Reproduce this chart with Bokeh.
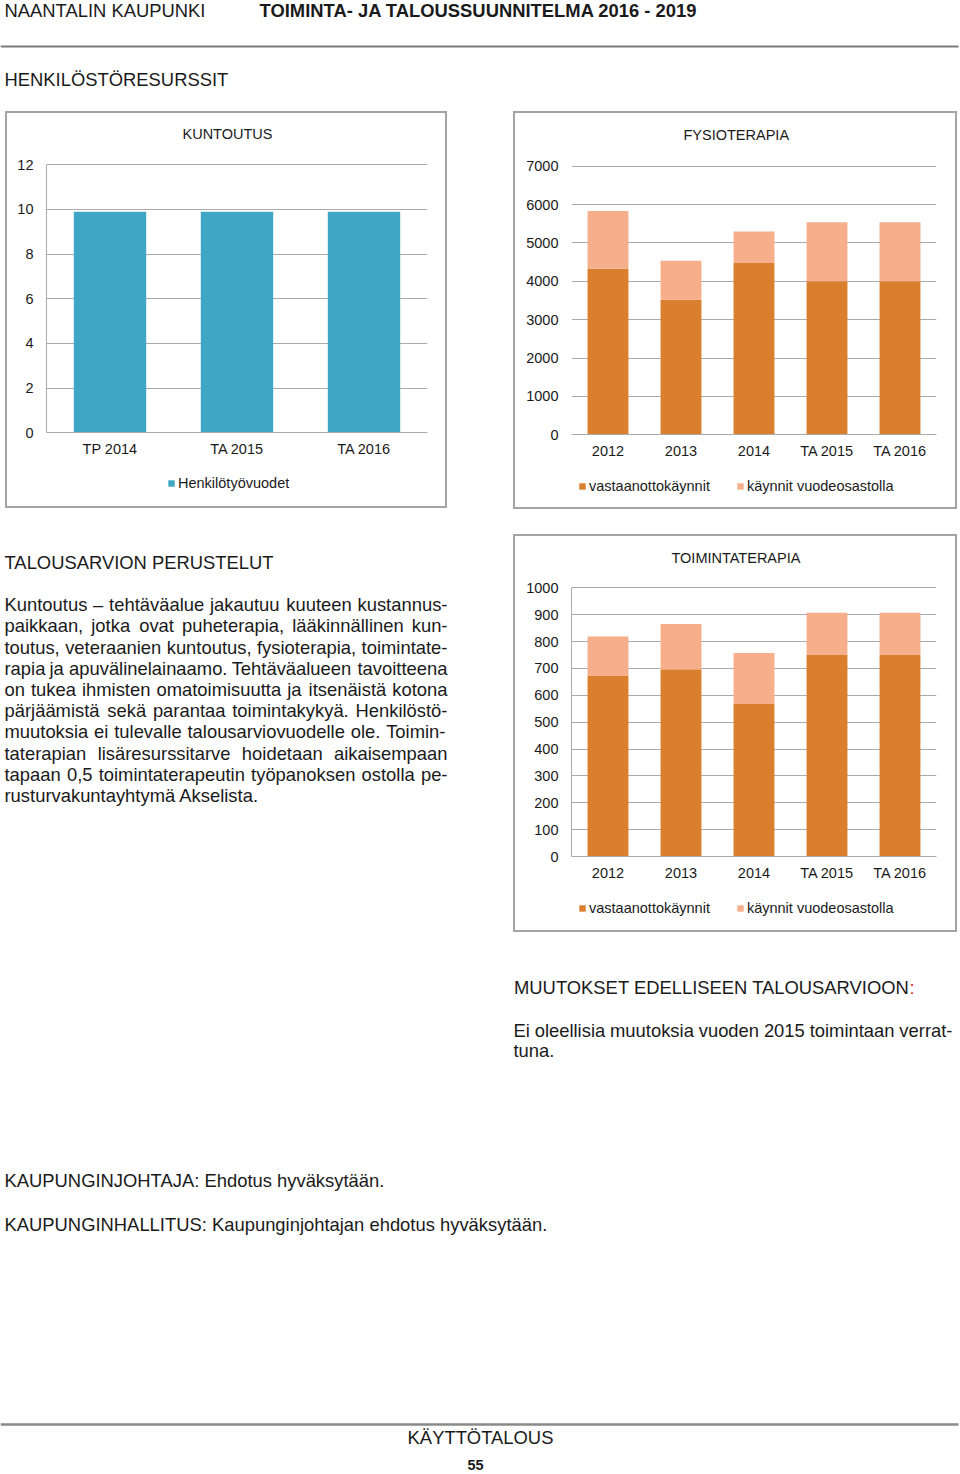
from bokeh.plotting import figure
from bokeh.models import (Range1d, FactorRange, Legend, LegendItem, Spacer,
                          FixedTicker, ColumnDataSource)
from bokeh.layouts import column, row
from bokeh.core.properties import value
from bokeh.embed import file_html
from bokeh.resources import INLINE

FONT = "Liberation Sans"

# ---------------- data ----------------
kuntoutus_categories = ["TP 2014", "TA 2015", "TA 2016"]
henkilotyovuodet = [9.9, 9.9, 9.9]
kuntoutus_ticks = [0, 2, 4, 6, 8, 10, 12]

years = ["2012", "2013", "2014", "TA 2015", "TA 2016"]
series_names = ["vastaanottokäynnit", "käynnit vuodeosastolla"]

fysio_vastaanottokaynnit = [4325, 3520, 4475, 4000, 4000]
fysio_vuodeosastolla = [1505, 1015, 825, 1540, 1540]
fysio_ticks = [0, 1000, 2000, 3000, 4000, 5000, 6000, 7000]

toim_vastaanottokaynnit = [674, 697, 568, 750, 750]
toim_vuodeosastolla = [145, 168, 189, 157, 157]
toim_ticks = [0, 100, 200, 300, 400, 500, 600, 700, 800, 900, 1000]

paragraph_lines = [
    "Kuntoutus – tehtäväalue jakautuu kuuteen kustannus-",
    "paikkaan, jotka ovat puheterapia, lääkinnällinen kun-",
    "toutus, veteraanien kuntoutus, fysioterapia, toimintate-",
    "rapia ja apuvälinelainaamo. Tehtäväalueen tavoitteena",
    "on tukea ihmisten omatoimisuutta ja itsenäistä kotona",
    "pärjäämistä sekä parantaa toimintakykyä. Henkilöstö-",
    "muutoksia ei tulevalle talousarviovuodelle ole. Toimin-",
    "taterapian lisäresurssitarve hoidetaan aikaisempaan",
    "tapaan 0,5 toimintaterapeutin työpanoksen ostolla pe-",
    "rusturvakuntayhtymä Akselista.",
]
muutos_lines = ["Ei oleellisia muutoksia vuoden 2015 toimintaan verrat-", "tuna."]

BLUE = "#3FA6C5"
DARK = "#DA7F2E"
LIGHT = "#F6AF8A"
GRID = "#ABABAB"
TXT = "#1A1A1A"
BOX = "#A4A4A4"

_W = {}
for chars, w in [
    ("abdeghnopqu0123456789äöå–", 556), ("cksvxyz", 500), ("fjt", 278),
    ("il", 222), ("m", 833), ("r", 333), ("w", 722), (" ,.:", 278), ("-", 333),
    ("ABEKPSVXYÄ", 667), ("CDHNRU", 722), ("FTZ", 611), ("GOQÖ", 778),
    ("I", 278), ("J", 500), ("L", 556), ("M", 833), ("W", 944),
]:
    for c in chars:
        _W.setdefault(c, w)


def tw(s, size):
    return sum(_W.get(c, 556) for c in s) / 1000.0 * size


def page_fig(w, h, x0, y0):
    p = figure(width=w, height=h, x_range=Range1d(x0, x0 + w),
               y_range=Range1d(y0 + h, y0), x_axis_type=None, y_axis_type=None,
               output_backend="svg", toolbar_location=None, min_border=0)
    p.outline_line_color = None
    p.background_fill_color = "white"
    p.border_fill_color = "white"
    return p


def put(p, xs, ys, texts, size=18.4, bold=False, color=TXT, align="left"):
    p.text(x=xs, y=ys, text=texts, text_font=value(FONT),
           text_font_size=f"{size:.1f}px",
           text_font_style="bold" if bold else "normal",
           text_color=color, text_align=align, text_baseline="alphabetic")


def justify(p, lines, x0, x1, y0, dy, size=18.4):
    xs, ys, ts = [], [], []
    for i, line in enumerate(lines):
        y = y0 + i * dy
        words = line.split(" ")
        if i == len(lines) - 1 or len(words) == 1:
            xs.append(x0); ys.append(y); ts.append(line)
            continue
        widths = [tw(wd, size) for wd in words]
        gap = (x1 - x0 - sum(widths)) / (len(words) - 1)
        x = x0
        for wd, wdt in zip(words, widths):
            xs.append(x); ys.append(y); ts.append(wd)
            x += wdt + gap
    put(p, xs, ys, ts, size)


def make_chart(title, cats, series, names, colors, ticks, w, h, ml, mr,
               title_y, top_px, zero_px, yline, bar_width, title_x, legend_xy):
    """title_y / top_px / zero_px: pixel distances from the canvas top of the
    title centre, of the top tick and of the zero line (layout, not data)."""
    mt = int(round(title_y + 13))
    mb = 0
    ymax = ticks[-1]
    k = (zero_px - top_px) / ymax                    # px per data unit
    y_end = ymax + (top_px - mt) / k
    y_start = -(h - mb - zero_px) / k
    p = figure(width=w, height=h, x_range=FactorRange(factors=cats, range_padding=0),
               y_range=Range1d(y_start, y_end), output_backend="svg",
               toolbar_location=None, min_border_left=ml, min_border_right=mr,
               min_border_top=mt, min_border_bottom=mb)
    p.outline_line_color = None
    p.background_fill_color = "white"
    p.border_fill_color = "white"
    p.styles = {"outline": f"2px solid {BOX}"}
    data = {"x": cats}
    keys = []
    for i, s in enumerate(series):
        data[f"s{i}"] = s
        keys.append(f"s{i}")
    src = ColumnDataSource(data)
    rends = p.vbar_stack(keys, x="x", width=bar_width, fill_color=colors,
                         line_color=None, source=src)

    p.title.text = title
    p.title.align = "left"
    p.title.offset = title_x
    p.title.standoff = 10
    p.title.text_font = FONT
    p.title.text_font_size = "14.5px"
    p.title.text_font_style = "normal"
    p.title.text_color = TXT

    p.xaxis.fixed_location = 0
    p.xaxis.axis_line_color = GRID
    p.xaxis.major_tick_line_color = None
    p.xaxis.minor_tick_line_color = None
    p.xaxis.major_tick_out = 0
    p.xaxis.major_tick_in = 0
    p.xaxis.major_label_text_font = FONT
    p.xaxis.major_label_text_font_size = "14.5px"
    p.xaxis.major_label_text_color = TXT
    p.xaxis.major_label_standoff = 8

    p.yaxis.ticker = FixedTicker(ticks=ticks)
    p.yaxis.bounds = (ticks[0], ticks[-1])
    p.yaxis.axis_line_color = GRID if yline else None
    p.yaxis.major_tick_line_color = None
    p.yaxis.minor_tick_line_color = None
    p.yaxis.major_tick_out = 0
    p.yaxis.major_tick_in = 0
    p.yaxis.major_label_text_font = FONT
    p.yaxis.major_label_text_font_size = "14.5px"
    p.yaxis.major_label_text_color = TXT
    p.yaxis.major_label_standoff = 13

    p.ygrid.ticker = FixedTicker(ticks=ticks)
    p.ygrid.grid_line_color = GRID
    p.xgrid.grid_line_color = None

    items = [LegendItem(label=n, renderers=[r]) for n, r in zip(names, rends)]
    leg = Legend(items=items, orientation="horizontal", location=legend_xy,
                 background_fill_alpha=0, border_line_color=None, padding=0,
                 margin=0, spacing=26, glyph_width=8, glyph_height=8,
                 label_standoff=3, label_text_font=FONT,
                 label_text_font_size="14.5px", label_text_color=TXT)
    p.add_layout(leg)
    return p


# ---------------- header ----------------
top = page_fig(960, 111, 0, 0)
put(top, [4], [10.4], ["NAANTALIN KAUPUNKI"])
put(top, [259], [10.4], ["TOIMINTA- JA TALOUSSUUNNITELMA 2016 - 2019"], bold=True)
top.line(x=[0, 958], y=[46, 46], line_color="#7A7A7A", line_width=2)
put(top, [4], [78.7], ["HENKILÖSTÖRESURSSIT"])

# ---------------- charts row ----------------
kun = make_chart("KUNTOUTUS", kuntoutus_categories, [henkilotyovuodet], ["Henkilötyövuodet"],
                 [BLUE], kuntoutus_ticks, w=438, h=393, ml=39, mr=18,
                 title_y=20, top_px=51.3, zero_px=319.3, yline=True, bar_width=0.57,
                 title_x=136, legend_xy=(121, 15))
fys = make_chart("FYSIOTERAPIA", years, [fysio_vastaanottokaynnit, fysio_vuodeosastolla],
                 series_names, [DARK, LIGHT], fysio_ticks, w=440, h=394, ml=56, mr=19,
                 title_y=21, top_px=52.7, zero_px=321.3, yline=False, bar_width=0.56,
                 title_x=112, legend_xy=(7, 13))
row2 = row(Spacer(width=7, height=400),
           column(Spacer(width=438, height=2), kun),
           Spacer(width=70, height=10),
           column(Spacer(width=440, height=2), fys))

# ---------------- text + chart row ----------------
mid = page_fig(513, 423, 0, 511)
put(mid, [4], [561.7], ["TALOUSARVION PERUSTELUT"])
justify(mid, paragraph_lines, 4, 447, 604.2, 21.2)

tom = make_chart("TOIMINTATERAPIA", years, [toim_vastaanottokaynnit, toim_vuodeosastolla],
                 series_names, [DARK, LIGHT], toim_ticks, w=440, h=394, ml=56, mr=19,
                 title_y=20.7, top_px=51.3, zero_px=320, yline=True, bar_width=0.56,
                 title_x=100, legend_xy=(7, 14))
row3 = row(mid, Spacer(width=2, height=10), column(Spacer(width=440, height=25), tom))

# ---------------- bottom ----------------
bot = page_fig(960, 539, 0, 934)
put(bot, [909], [986.7], ["MUUTOKSET EDELLISEEN TALOUSARVIOON"], align="right")
put(bot, [909], [986.7], [":"], color="#E0302A")
justify(bot, muutos_lines, 513, 952, 1029.7, 20.7)
put(bot, [4], [1180.4], ["KAUPUNGINJOHTAJA: Ehdotus hyväksytään."])
put(bot, [4], [1223.7], ["KAUPUNGINHALLITUS: Kaupunginjohtajan ehdotus hyväksytään."])
bot.line(x=[0, 958], y=[1424, 1424], line_color="#8A8A8A", line_width=2.5)
put(bot, [480], [1437], ["KÄYTTÖTALOUS"], align="center")
put(bot, [475], [1464], ["55"], size=14.5, bold=True, align="center")

layout = column(top, row2, row3, bot)

open("out.html", "w").write(file_html(layout, INLINE, title="Henkilöstöresurssit"))
